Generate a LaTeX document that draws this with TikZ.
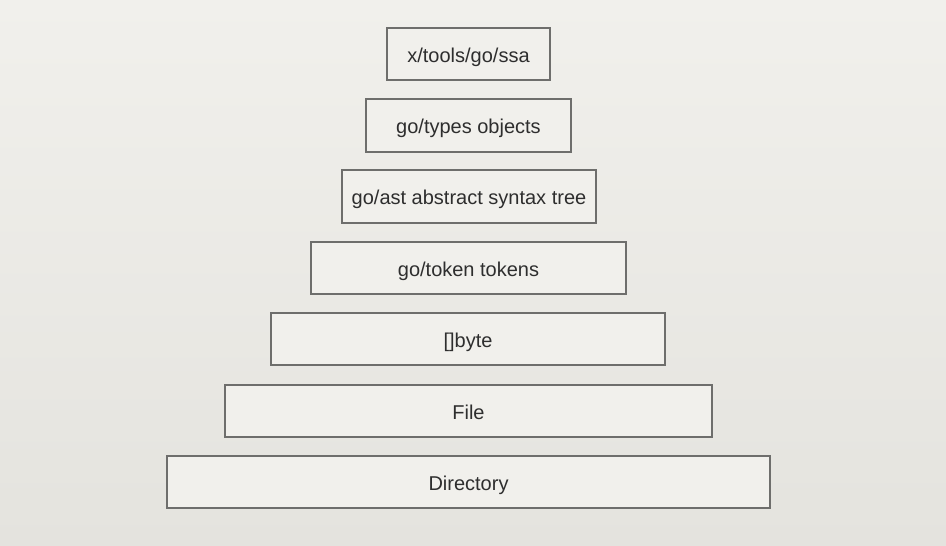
\documentclass[tikz,border=0pt]{standalone}
\usepackage{fontspec}
\setmainfont{Liberation Sans}
\definecolor{bgtop}{HTML}{F1F0EC}
\definecolor{bgbot}{HTML}{E4E3DE}
\definecolor{boxfill}{HTML}{F1F0EC}
\definecolor{boxline}{HTML}{6E6E6C}
\definecolor{txt}{HTML}{2E2E2E}
\begin{document}
\begin{tikzpicture}[x=0.75pt,y=-0.75pt,
  layer/.style={draw=boxline,line width=1.2pt,fill=boxfill,text=txt,
    inner sep=0pt,font=\fontsize{15}{17}\selectfont,anchor=center,
    text depth=0pt,text height=12pt}]
\useasboundingbox (0,0) rectangle (946,546);
\shade[top color=bgtop,bottom color=bgbot] (0,0) rectangle (946,546);
\node[layer,minimum width=163*0.75pt,minimum height=52*0.75pt] (ssa) at (468.5,54) {x/tools/go/ssa};
\node[layer,minimum width=205*0.75pt,minimum height=53*0.75pt] (types) at (468.5,125.5) {go/types objects};
\node[layer,minimum width=254*0.75pt,minimum height=53*0.75pt] (ast) at (469,196.5) {go/ast abstract syntax tree};
\node[layer,minimum width=315*0.75pt,minimum height=52*0.75pt] (token) at (468.5,268) {go/token tokens};
\node[layer,minimum width=394*0.75pt,minimum height=52*0.75pt] (byte) at (468,339) {[]byte};
\node[layer,minimum width=487*0.75pt,minimum height=52*0.75pt] (file) at (468.5,411) {File};
\node[layer,minimum width=603*0.75pt,minimum height=52*0.75pt] (dir) at (468.5,482) {Directory};
\end{tikzpicture}
\end{document}
